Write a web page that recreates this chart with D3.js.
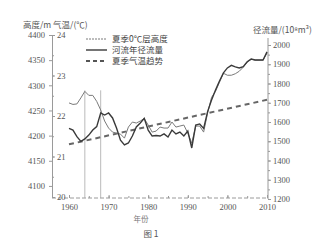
<!DOCTYPE html>
<html>
<head>
<meta charset="utf-8">
<script src="https://cdn.jsdelivr.net/npm/d3@7"></script>
<style>
  body { margin: 0; background: #fff; }
  svg { display: block; }
</style>
</head>
<body>
<svg id="chart"></svg>
<script>
const width = 328;
const height = 246;

// years 1960-2010
const years = d3.range(1960, 2011);

// summer 0 deg C level height (m), left axis
const zeroHeight = [4265, 4262, 4263, 4275, 4288, 4280, 4280, 4268, 4251, 4229,
    4215, 4207, 4205, 4203, 4195, 4217, 4227, 4225, 4229, 4234,
    4221, 4207, 4209, 4217, 4215, 4215, 4227, 4217, 4219, 4221,
    4205, 4185, 4219, 4219, 4207, 4245, 4276, 4288, 4306, 4324,
    4320, 4320, 4323, 4328, 4336, 4346, 4352, 4350, 4350, 4350, 4364];

// annual river runoff (10^8 m3), right axis
const runoff = [1567, 1558, 1524, 1499, 1512, 1532, 1558, 1576, 1647, 1636,
    1647, 1621, 1569, 1506, 1481, 1491, 1527, 1574, 1595, 1619,
    1558, 1527, 1530, 1527, 1538, 1522, 1558, 1538, 1548, 1527,
    1553, 1465, 1584, 1590, 1567, 1654, 1714, 1766, 1813, 1855,
    1881, 1894, 1886, 1881, 1887, 1913, 1927, 1922, 1922, 1922, 1964];

// summer temperature trend (deg C)
const trendYears = [1960, 2010];
const trendTemp = [21.3, 22.4];

// marker lines
const markYears = [1964, 1968];
const markTop = 4290;

const xTicks = [1960, 1970, 1980, 1990, 2000, 2010];
const heightTicks = [4100, 4150, 4200, 4250, 4300, 4350, 4400];
const tempTicks = [20, 21, 22, 23, 24];
const runoffTicks = [1200, 1300, 1400, 1500, 1600, 1700, 1800, 1900, 2000];

const legendLabels = ["夏季0℃层高度", "河流年径流量", "夏季气温趋势"];

const serif = "'Liberation Serif', 'DejaVu Serif', serif";
const cjk = "'Noto Sans CJK SC', sans-serif";
const axisColor = "#9a9a9a";
const textColor = "#555";

const svg = d3.select("#chart").attr("width", width).attr("height", height);

const xScale = d3.scaleLinear().domain([1960, 2010]).range([69, 267]);
const yHeight = d3.scaleLinear().domain([4078, 4400]).range([197, 35]);
const yTemp = d3.scaleLinear().domain([20, 24]).range([197, 35]);
const yRunoff = d3.scaleLinear().domain([1200, 2000]).range([199, 45]);

const leftX = 52, rightX = 268, baseY = 198;

function styleAxis(g) {
    g.selectAll("path").attr("stroke", axisColor);
    g.selectAll("line").attr("stroke", axisColor);
    g.selectAll("text")
        .attr("fill", textColor)
        .style("font-family", serif)
        .style("font-size", "8.5px");
}

// x axis baseline
svg.append("line")
    .attr("x1", leftX).attr("x2", rightX)
    .attr("y1", baseY).attr("y2", baseY)
    .attr("stroke", axisColor).attr("stroke-dasharray", "4,2");

// minor x ticks
svg.append("g")
    .attr("transform", `translate(0, ${baseY})`)
    .call(d3.axisBottom(xScale).ticks(10).tickSize(-2).tickFormat(""))
    .call(g => g.select(".domain").remove())
    .call(styleAxis);

svg.append("g")
    .attr("transform", `translate(0, ${baseY})`)
    .call(d3.axisBottom(xScale).tickValues(xTicks).tickSize(-3).tickPadding(6).tickFormat(d3.format("d")))
    .call(g => g.select(".domain").remove())
    .call(styleAxis);

// left axis: height
svg.append("g")
    .attr("transform", `translate(${leftX}, 0)`)
    .call(d3.axisLeft(yHeight).tickValues(heightTicks).tickSize(3).tickSizeOuter(0).tickPadding(4).tickFormat(d3.format("d")))
    .call(g => g.select(".domain").remove())
    .call(styleAxis);

// left axis: temperature (right-hand labels)
svg.append("g")
    .attr("transform", `translate(${leftX}, 0)`)
    .call(d3.axisRight(yTemp).ticks(8).tickSize(2).tickSizeOuter(0).tickFormat(""))
    .call(styleAxis);

svg.append("g")
    .attr("transform", `translate(${leftX}, 0)`)
    .call(d3.axisRight(yTemp).tickValues(tempTicks).tickSize(3).tickPadding(2).tickFormat(d3.format("d")))
    .call(g => g.select(".domain").remove())
    .call(styleAxis);

// right axis: runoff
svg.append("g")
    .attr("transform", `translate(${rightX}, 0)`)
    .call(d3.axisRight(yRunoff).ticks(16).tickSize(2).tickSizeOuter(0).tickFormat(""))
    .call(g => g.select(".domain").attr("d", `M0,38V${yRunoff(1200)}`))
    .call(styleAxis);

svg.append("g")
    .attr("transform", `translate(${rightX}, 0)`)
    .call(d3.axisRight(yRunoff).tickValues(runoffTicks).tickSize(3).tickPadding(2).tickFormat(d3.format("d")))
    .call(g => g.select(".domain").remove())
    .call(styleAxis);

// vertical marker lines
svg.selectAll(".mark")
    .data(markYears)
    .enter()
    .append("line")
    .attr("class", "mark")
    .attr("x1", d => xScale(d)).attr("x2", d => xScale(d))
    .attr("y1", yHeight(markTop)).attr("y2", baseY)
    .attr("stroke", "#aaa")
    .attr("stroke-width", 0.8);

// trend line
const trendLine = d3.line()
    .x((d, i) => xScale(trendYears[i]))
    .y(d => yTemp(d));
svg.append("path")
    .datum(trendTemp)
    .attr("d", trendLine)
    .attr("fill", "none")
    .attr("stroke", "#666")
    .attr("stroke-width", 2)
    .attr("stroke-dasharray", "5,4");

// 0 deg level height line
const heightLine = d3.line()
    .x((d, i) => xScale(years[i]))
    .y(d => yHeight(d));
svg.append("path")
    .datum(zeroHeight)
    .attr("d", heightLine)
    .attr("fill", "none")
    .attr("stroke", "#7a7a7a")
    .attr("stroke-width", 1);

// runoff line
const runoffLine = d3.line()
    .x((d, i) => xScale(years[i]))
    .y(d => yRunoff(d));
svg.append("path")
    .datum(runoff)
    .attr("d", runoffLine)
    .attr("fill", "none")
    .attr("stroke", "#3a3a3a")
    .attr("stroke-width", 1.4);

// axis titles
svg.append("text")
    .attr("x", 23).attr("y", 28)
    .attr("fill", textColor)
    .style("font-family", cjk)
    .style("font-size", "8.5px")
    .text("高度/m 气温/(℃)");

svg.append("text")
    .attr("x", 253).attr("y", 33)
    .attr("fill", textColor)
    .style("font-family", cjk)
    .style("font-size", "8.5px")
    .text("径流量/(10⁸m³)");

svg.append("text")
    .attr("x", 141).attr("y", 222)
    .attr("text-anchor", "middle")
    .attr("fill", "#777")
    .style("font-family", cjk)
    .style("font-size", "7.5px")
    .text("年份");

svg.append("text")
    .attr("x", 151).attr("y", 237)
    .attr("text-anchor", "middle")
    .attr("fill", textColor)
    .style("font-family", cjk)
    .style("font-size", "8.5px")
    .text("图 1");

// legend
const legendStyles = [
    { stroke: "#7a7a7a", width: 1, dash: "2,1" },
    { stroke: "#3a3a3a", width: 1.4, dash: null },
    { stroke: "#555", width: 2, dash: "4,3" }
];
const legend = svg.append("g");
legendLabels.forEach((label, i) => {
    const y = 39 + i * 11;
    legend.append("line")
        .attr("x1", 86).attr("x2", 107)
        .attr("y1", y).attr("y2", y)
        .attr("stroke", legendStyles[i].stroke)
        .attr("stroke-width", legendStyles[i].width)
        .attr("stroke-dasharray", legendStyles[i].dash);
    legend.append("text")
        .attr("x", 112).attr("y", y + 3)
        .attr("fill", "#444")
        .style("font-family", cjk)
        .style("font-size", "8.5px")
        .text(label);
});
</script>
</body>
</html>
